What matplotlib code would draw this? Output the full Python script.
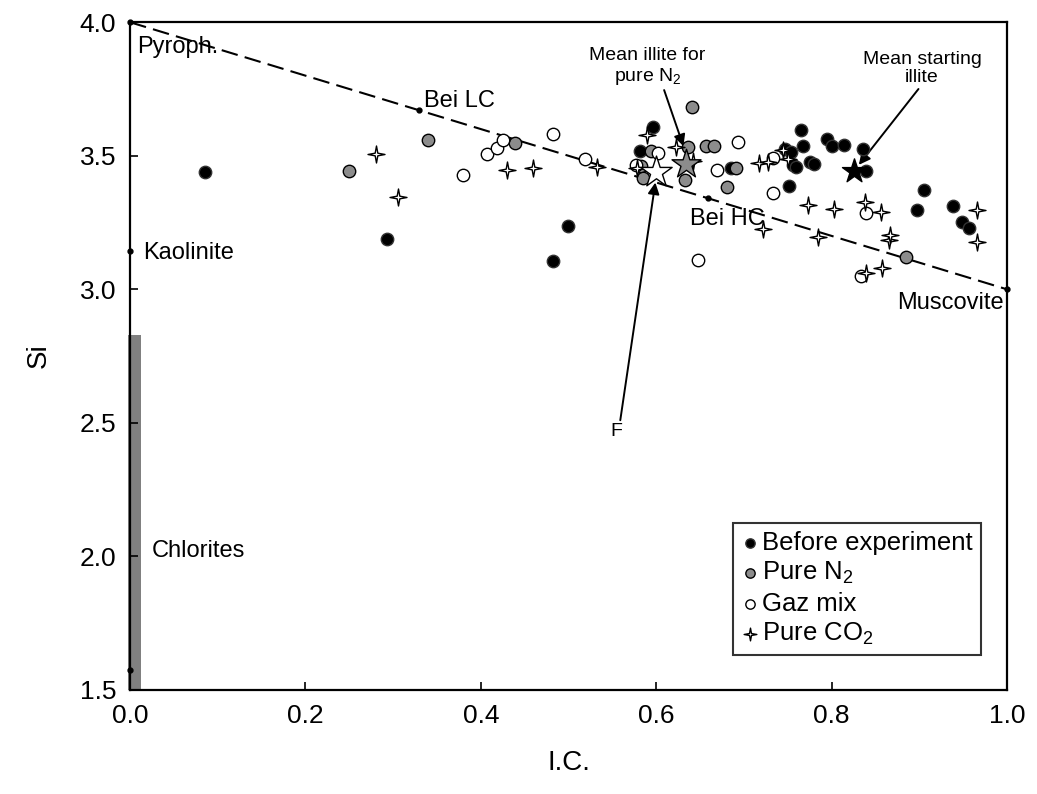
import matplotlib
matplotlib.use('Agg')
import matplotlib.pyplot as plt
import numpy as np
from matplotlib.path import Path

plt.rcParams['font.family'] = ['Liberation Sans', 'DejaVu Sans']
plt.rcParams['mathtext.default'] = 'regular'

# Before experiment (black circles)
before_x = [0.086, 0.293, 0.482, 0.499, 0.582, 0.596, 0.685, 0.747, 0.751, 0.754, 0.756, 0.759, 0.765,
            0.767, 0.775, 0.780, 0.795, 0.800, 0.814, 0.836, 0.839, 0.897, 0.905, 0.938, 0.949, 0.957]
before_y = [3.439, 3.188, 3.106, 3.237, 3.517, 3.607, 3.453, 3.525, 3.386, 3.513, 3.465, 3.457, 3.596,
            3.536, 3.476, 3.469, 3.562, 3.536, 3.540, 3.525, 3.442, 3.296, 3.371, 3.311, 3.251, 3.229]

# Pure N2 (grey circles)
n2_x = [0.250, 0.340, 0.439, 0.583, 0.585, 0.594, 0.633, 0.636, 0.641, 0.657, 0.666, 0.681, 0.691, 0.885]
n2_y = [3.442, 3.558, 3.547, 3.461, 3.416, 3.517, 3.409, 3.532, 3.682, 3.536, 3.536, 3.383, 3.453, 3.120]

# Gaz mix (open circles)
mix_x = [0.380, 0.407, 0.418, 0.425, 0.482, 0.519, 0.577, 0.602, 0.648, 0.669, 0.693, 0.733, 0.733, 0.833, 0.839]
mix_y = [3.427, 3.506, 3.528, 3.558, 3.581, 3.487, 3.465, 3.510, 3.109, 3.446, 3.551, 3.491, 3.360, 3.049, 3.285]

# Pure CO2 (4-point stars)
co2_x = [0.280, 0.305, 0.430, 0.460, 0.532, 0.578, 0.590, 0.623, 0.642, 0.717, 0.722, 0.727, 0.745,
         0.750, 0.773, 0.784, 0.803, 0.838, 0.839, 0.856, 0.857, 0.865, 0.867, 0.966, 0.966]
co2_y = [3.506, 3.345, 3.446, 3.454, 3.457, 3.454, 3.577, 3.532, 3.480, 3.472, 3.225, 3.476, 3.521,
         3.487, 3.315, 3.195, 3.300, 3.326, 3.061, 3.289, 3.079, 3.184, 3.203, 3.296, 3.177]

# mean values
mean_start = (0.826, 3.442)
mean_n2 = (0.634, 3.469)
mean_f = (0.600, 3.439)

# reference minerals
ref_x = [0.0, 0.330, 0.659, 1.0, 0.0, 0.0]
ref_y = [4.0, 3.671, 3.341, 3.0, 3.143, 1.575]

# pyrophyllite - muscovite line
line_x = [0.0, 1.0]
line_y = [4.0, 3.0]

# chlorite range
chl_bottom = 1.5
chl_top = 2.83

# 4 point star marker
ang = np.arange(8) * np.pi / 4 + np.pi / 2
rad = np.where(np.arange(8) % 2 == 0, 1.0, 0.22)
verts = np.column_stack([rad * np.cos(ang), rad * np.sin(ang)])
verts = np.vstack([verts, verts[0]])
star4 = Path(verts, [Path.MOVETO] + [Path.LINETO] * 7 + [Path.CLOSEPOLY])

fig = plt.figure(figsize=(10.37, 7.94), dpi=100)
ax = fig.add_axes([0.1254, 0.131, 0.8457, 0.841])

ax.bar([0.005], [chl_top - chl_bottom], bottom=chl_bottom, width=0.014, color='#808080',
       clip_on=False, zorder=1)

ax.plot(line_x, line_y, color='black', lw=1.5, dashes=(8, 3.5), zorder=2)
ax.plot(ref_x, ref_y, 'o', color='black', ms=3.5, clip_on=False, zorder=3)

ax.scatter(before_x, before_y, s=80, c='black', edgecolors='#333333', linewidths=1, zorder=4,
           label='Before experiment')
ax.scatter(n2_x, n2_y, s=80, c='#8c8c8c', edgecolors='black', linewidths=1, zorder=4,
           label='Pure N$_2$')
ax.scatter(mix_x, mix_y, s=80, c='white', edgecolors='black', linewidths=1, zorder=4,
           label='Gaz mix')
ax.scatter(co2_x, co2_y, s=150, c='white', marker=star4, edgecolors='black', linewidths=1, zorder=5,
           label='Pure CO$_2$')

ax.scatter([mean_start[0]], [mean_start[1]], s=330, marker='*', c='black', edgecolors='black', zorder=6)
ax.scatter([mean_n2[0]], [mean_n2[1]], s=480, marker='*', c='#8c8c8c', edgecolors='black', lw=1, zorder=6)
ax.scatter([mean_f[0]], [mean_f[1]], s=560, marker='*', c='white', edgecolors='black', lw=1, zorder=6)

# labels
lab = dict(fontsize=17, va='center')
ax.text(0.008, 3.906, 'Pyroph.', ha='left', **lab)
ax.text(0.335, 3.704, 'Bei LC', ha='left', **lab)
ax.text(0.638, 3.263, 'Bei HC', ha='left', **lab)
ax.text(0.996, 2.948, 'Muscovite', ha='right', **lab)
ax.text(0.015, 3.135, 'Kaolinite', ha='left', **lab)
ax.text(0.025, 2.02, 'Chlorites', ha='left', **lab)

arrow = dict(arrowstyle='-|>', color='black', lw=1.4, mutation_scale=17, shrinkA=0, shrinkB=0)
ax.text(0.590, 3.832, 'Mean illite for\npure N$_2$', ha='center', va='center', fontsize=14,
        linespacing=1.1)
ax.annotate('', xy=(0.631, 3.536), xytext=(0.609, 3.746), arrowprops=arrow)
ax.text(0.903, 3.826, 'Mean starting\nillite', ha='center', va='center', fontsize=14,
        linespacing=1.1)
ax.annotate('', xy=(0.831, 3.466), xytext=(0.899, 3.750), arrowprops=arrow)
ax.text(0.554, 2.466, 'F', ha='center', va='center', fontsize=14)
ax.annotate('', xy=(0.599, 3.40), xytext=(0.559, 2.51), arrowprops=arrow)

ax.set_xlim(0, 1.0)
ax.set_ylim(1.5, 4.0)
ax.set_xticks(np.arange(0, 1.01, 0.2))
ax.set_yticks(np.arange(1.5, 4.01, 0.5))
ax.xaxis.set_major_formatter(plt.FormatStrFormatter('%.1f'))
ax.yaxis.set_major_formatter(plt.FormatStrFormatter('%.1f'))
ax.tick_params(direction='in', length=6, width=1.2, labelsize=19, pad=10)
for sp in ax.spines.values():
    sp.set_linewidth(1.6)

ax.set_xlabel('I.C.', fontsize=20, labelpad=16)
ax.set_ylabel('Si', fontsize=20, labelpad=20)

leg = ax.legend(loc='lower right', bbox_to_anchor=(0.970, 0.053), fontsize=18.5, frameon=True,
                fancybox=False, edgecolor='black', markerscale=0.75, handletextpad=0.15,
                borderpad=0.3, labelspacing=0.2, handlelength=0.7, borderaxespad=0)
leg.get_frame().set_linewidth(1.5)

plt.savefig('out.png', dpi=100)
plt.close()
